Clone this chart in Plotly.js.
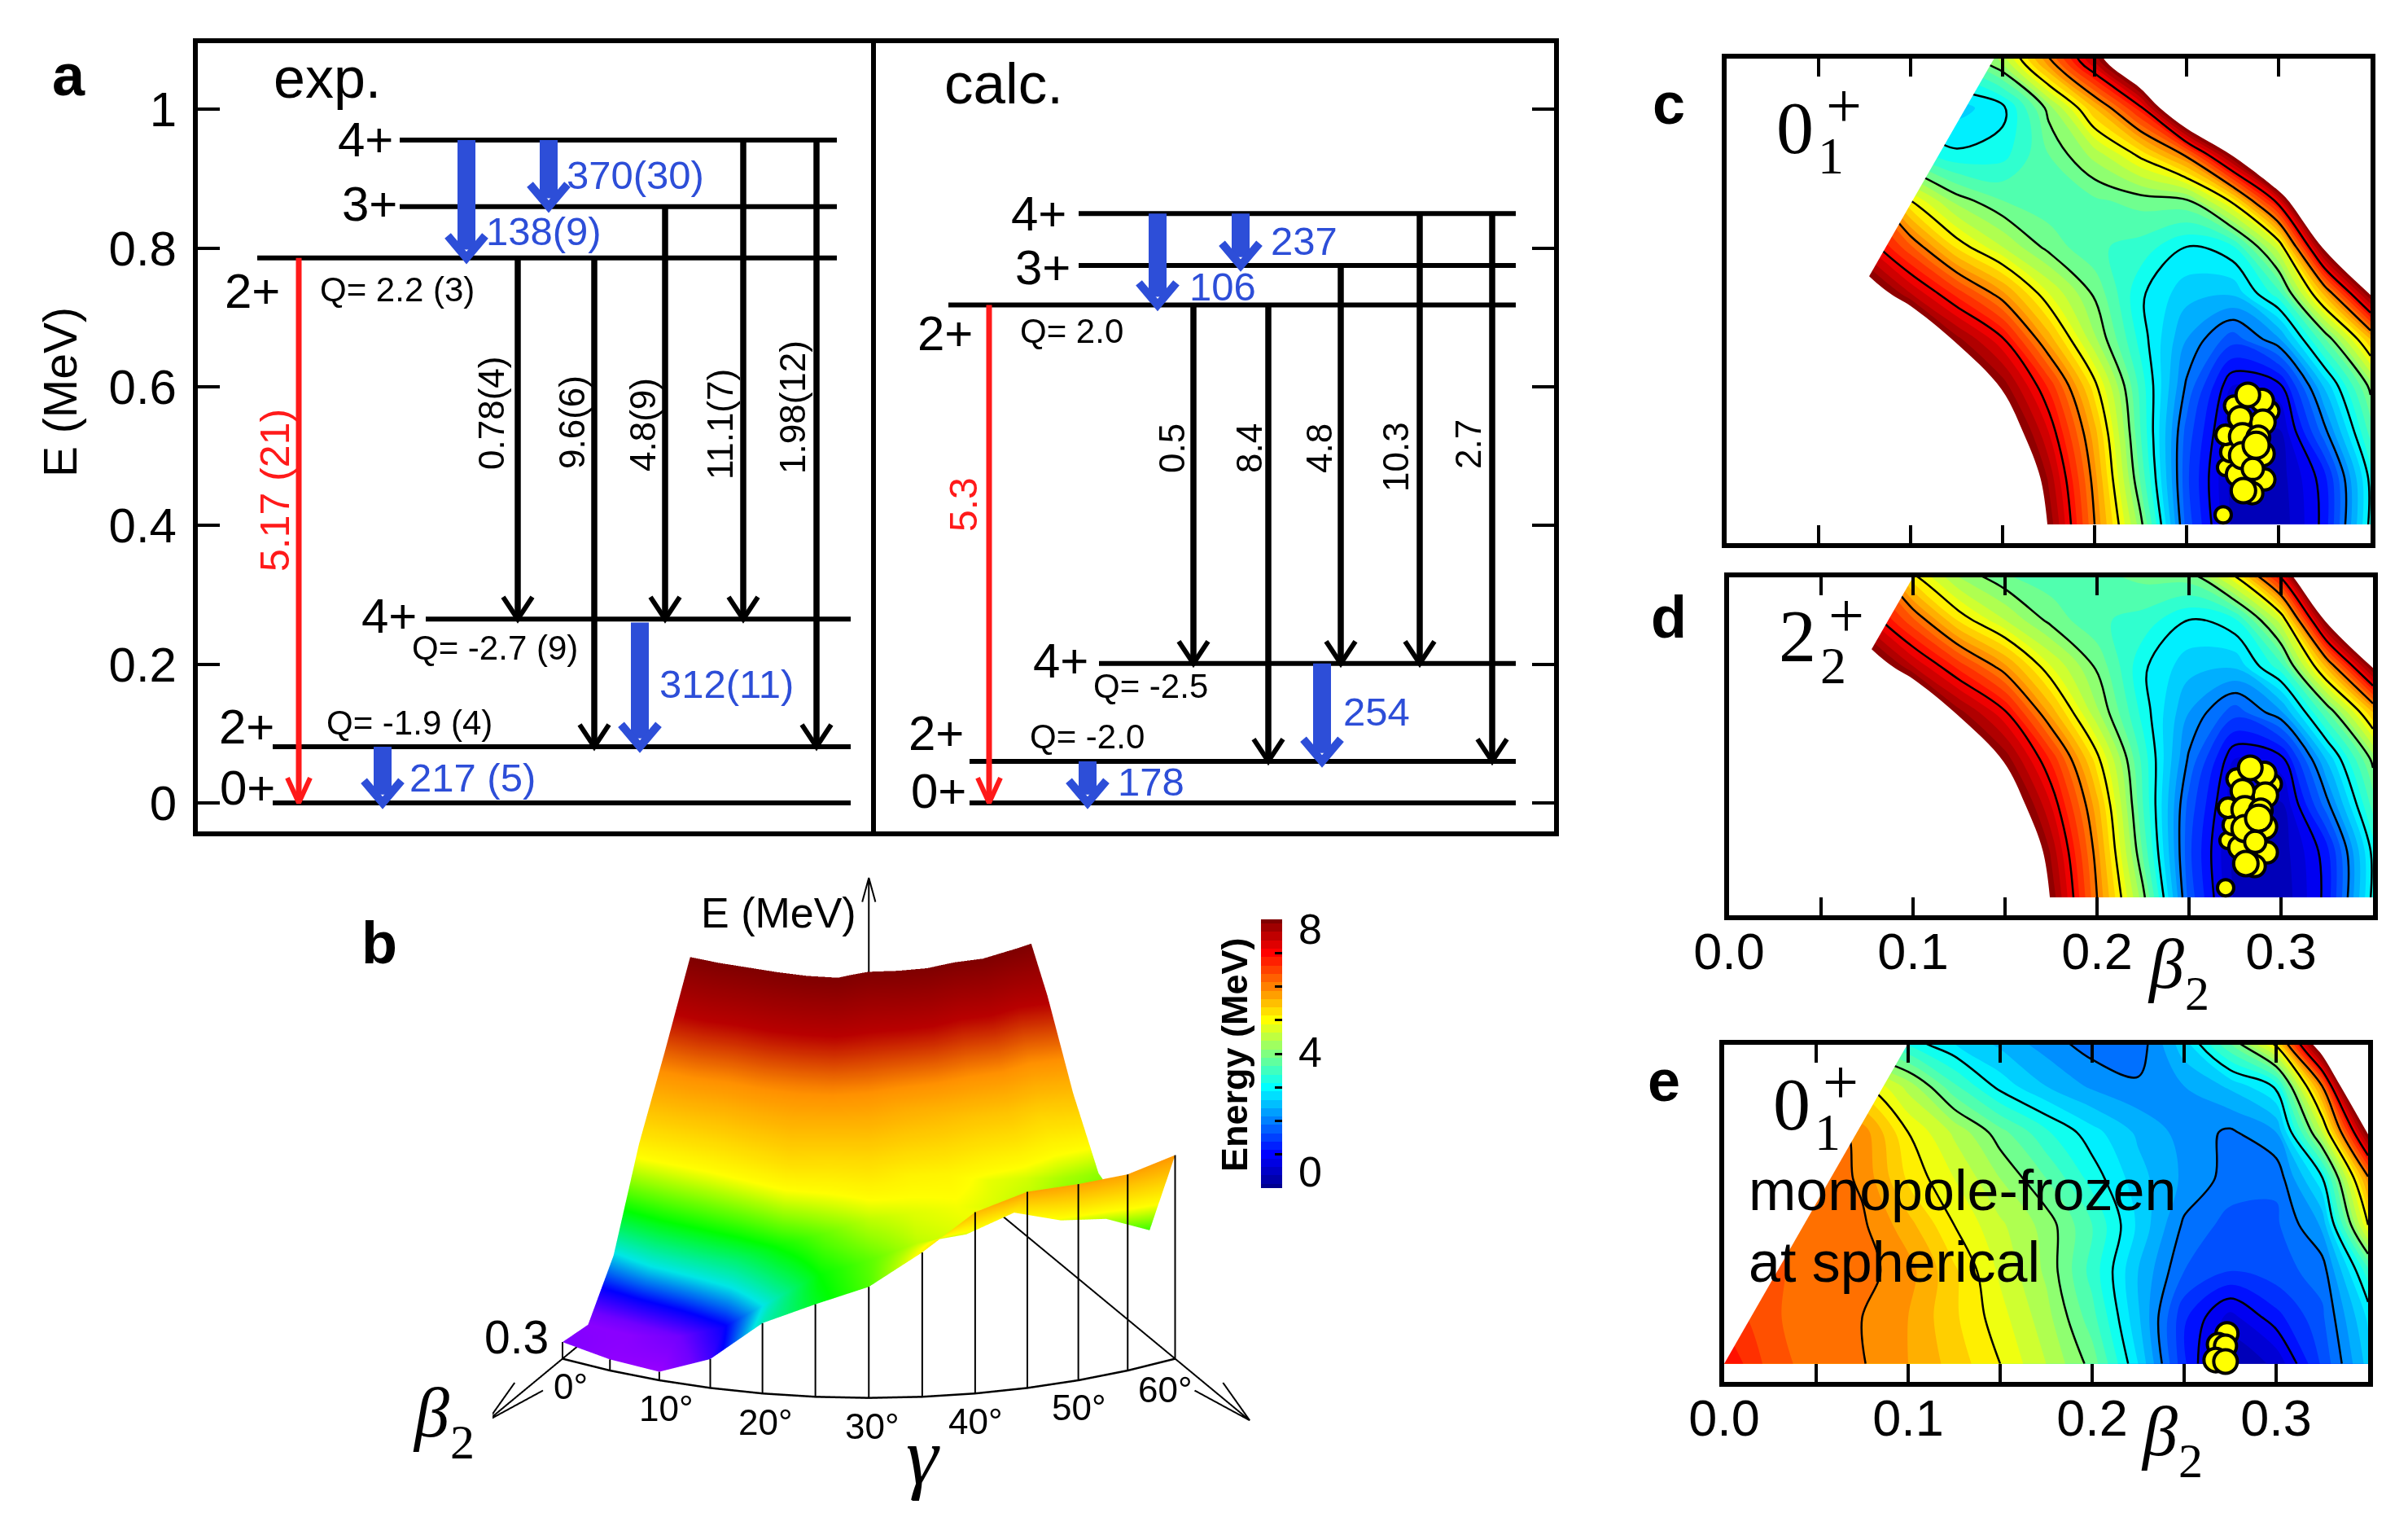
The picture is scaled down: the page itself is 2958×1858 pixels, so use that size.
<!DOCTYPE html>
<html><head><meta charset="utf-8">
<script src="https://cdn.plot.ly/plotly-3.0.1.min.js"></script>
<style>html,body{margin:0;padding:0;background:#fff}</style></head>
<body><div id="chart" style="width:2958px;height:1858px"></div>
<script>
// ---------- panel a data ----------
const E_TICKS=[0,0.2,0.4,0.6,0.8,1];
const expLevelE=[0,0.081,0.265,0.786,0.860,0.956];
const expLevelStart=[94,94,282,75,250,250];
const expLevelEnd=[804,804,804,787,787,787];
const calcLevelE=[0,0.060,0.201,0.718,0.775,0.850];
const calcLevelStart=[115,115,274,89,249,249];
const calcLevelEnd=[786,786,786,786,786,786];
// transitions: column, from energy, to energy
const expBlackCol=[395,489,576,672,762];
const expBlackFrom=[0.786,0.786,0.860,0.956,0.956];
const expBlackTo=[0.265,0.081,0.265,0.265,0.081];
const expBlackLabels=['0.78(4)','9.6(6)','4.8(9)','11.1(7)','1.98(12)'];
const expBlueCol=[332,433,545,229];
const expBlueFrom=[0.956,0.956,0.260,0.081];
const expBlueTo=[0.786,0.860,0.081,0];
const expBlueLabels=['138(9)','370(30)','312(11)','217 (5)'];
const expRedCol=[126],expRedFrom=[0.786],expRedTo=[0],expRedLabel='5.17 (21)';
const calcBlackCol=[390,482,571,668,757];
const calcBlackFrom=[0.718,0.718,0.775,0.850,0.850];
const calcBlackTo=[0.201,0.060,0.201,0.201,0.060];
const calcBlackLabels=['0.5','8.4','4.8','10.3','2.7'];
const calcBlueCol=[346,448,548,260];
const calcBlueFrom=[0.850,0.850,0.201,0.060];
const calcBlueTo=[0.718,0.775,0.060,0];
const calcBlueLabels=['106','237','254','178'];
const calcRedCol=[139],calcRedFrom=[0.718],calcRedTo=[0],calcRedLabel='5.3';

// ---------- panels c,d: energy on (x=beta cos gamma, y=beta sin gamma) ----------
const GRID_X=[0,0.025,0.05,0.075,0.1,0.125,0.15,0.175,0.2,0.225,0.25,0.275,0.3,0.325,0.35];
const GRID_Y_CD=[0,0.025,0.05,0.075,0.1,0.125,0.15,0.175,0.2,0.225,0.25,0.275];
const Z_CD=[
[16,16,16,16,14,11.8,9.9,7.95,6,4.1,1.65,0.45,0.3,1.1,3.1],
[16,16,16,16,13.5,11.5,9.4,7.7,5.85,3.7,1.56,0.4,0.35,1.15,3.1],
[16,16,16,15,13,10.5,8.6,7.25,5.6,3.5,1.65,0.55,0.45,1.9,3.6],
[16,16,16,14.5,12,9.7,7.9,6.7,5.1,3.4,1.95,0.75,0.9,2.55,4.1],
[16,16,15,12,9.3,7.85,7.05,5.65,4.3,3.15,2.25,1.6,2.2,3.7,5.5],
[16,15,12,8.6,7.5,6.65,5.8,4.75,3.95,3.05,2.6,2.55,3.4,5.6,8.1],
[14,12,9,7.3,6.3,5.2,4.5,3.9,3.55,3.4,3,3.2,4.65,8.2,13],
[10,8,7,6.4,5,4.15,3.75,3.6,3.7,3.85,3.95,5.1,7.2,11,15],
[6,5,4,3.5,3.4,3.05,3.15,3.75,4.35,5.1,6.1,8.1,11,14,16],
[5,4,3.5,3,2.8,2.65,2.9,4.1,5.5,6.9,9.5,12,14,16,16],
[4,3.5,3,2.8,3,3.5,4.3,5.9,7.5,9.5,12,14,16,16,16],
[3.5,3,2.8,2.8,3,4,5.2,6.7,8.5,11,13,15,16,16,16]];
const GRID_Y_E=[0,0.025,0.05,0.075,0.1,0.125,0.15,0.175,0.2];
const Z_E=[
[7,6.4,6.1,6.02,5.75,5.4,5,4.5,3.9,2.75,1.3,0.3,0.55,1.55,2.6],
[6.7,6.3,6.1,6,5.75,5.3,4.85,4.35,3.6,2.55,1.3,0.65,1.15,1.7,2.8],
[6.4,6.3,6.15,6.1,5.85,5.3,4.7,4.2,3.4,2.5,1.75,1.5,1.65,1.85,3.4],
[6.4,6.3,6.15,6.05,5.6,5,4.55,4.15,3.5,2.7,1.95,1.65,1.7,2.3,5],
[6.3,6.3,6.2,5.95,5.2,4.75,4.25,3.75,3.15,2.6,2.2,1.9,1.8,2.95,5.9],
[6.3,6.3,6.2,5.9,5,4.45,3.85,3.3,2.85,2.45,2.15,1.95,2.25,4.5,8.1],
[6,6,5.5,5.1,4.4,3.55,2.9,2.5,2.2,2.05,2.25,2.55,3.05,6,11],
[4,4,4,3.5,3.1,2.7,2.4,2.1,1.85,1.8,2.7,3.85,5.3,9,14],
[3.5,3.5,3.5,3,2.8,2.4,2.1,1.8,1.6,1.6,3.2,4.8,6.5,11,14]];
const ptsX=[0.2699,0.2712,0.2738,0.2712,0.2759,0.2778,0.2949,0.2923,0.2910,0.2915,0.2857,0.2791,0.2804,0.2809,0.2804,0.2910,0.2833,0.2890,0.2860,0.2878];
const ptsY=[0.0052,0.0308,0.0391,0.0484,0.0641,0.0270,0.0613,0.0243,0.0669,0.0552,0.0169,0.0576,0.0474,0.0183,0.0372,0.0382,0.0700,0.0470,0.0300,0.0428];
const ptsSize=[20,20,24,24,24,28,24,26,28,30,26,28,32,30,32,30,29,28,26,32];
const ptsEX=[0.2733,0.2686,0.2725,0.2672,0.2725];
const ptsEY=[0.0163,0.0104,0.0096,0.0020,0.0012];
const WEDGE_X=[0,0.2,-0.01,-0.01],WEDGE_Y=[0,0.3464,0.3464,0];
const BETA_TICKS=[0,0.05,0.1,0.15,0.2,0.25,0.3];
const BETA_TEXT=['0.0','','0.1','','0.2','','0.3'];

// ---------- panel b: surface in (beta,gamma) ----------
const SURF_BETA=[0.3,0.275,0.25,0.225,0.2,0.175,0.15,0.125];
const SURF_GAMMA=[0,5,10,15,20,25,30,35,40,45,50,55,60];
const SURF_E=[
[0.45,0.3,0.23,0.78,1.9,2.5,3,3.9,4.9,5.3,5.3,5.3,5.5],
[0.35,0.35,0.55,1,1.85,2.65,3.05,3.5,3.65,4.1,3.7,3.5,2.9],
[1.65,1.9,2,2.2,2.7,3.1,3.5,3.65,3.75,3.6,3.4,3.1,2.9],
[4.1,3.9,3.9,4.15,4.5,4.3,4.35,4,3.95,3.7,3.6,3.4,3.3],
[6,5.9,5.7,5.8,5.8,5.8,5.6,5.2,5,4.8,4.8,4.5,4.9],
[8,7.9,7.8,7.85,7.9,7.9,7.35,7.3,7.2,6.8,6.9,6.65,6.95],
[10,10,10,9.7,9.6,9.5,9.3,9.3,9.3,9.2,9.2,9,8.6],
[12,12,12,12,12,12,12,12,12,12,12,12,12]];
const GAMMA_LABELS=['0°','10°','20°','30°','40°','50°','60°'];
const BAR_LEVELS=[0,0.25,0.5,0.75,1,1.25,1.5,1.75,2,2.25,2.5,2.75,3,3.25,3.5,3.75,4,4.25,4.5,4.75,5,5.25,5.5,5.75,6,6.25,6.5,6.75,7,7.25,7.5,7.75,8];

// ---------- styles ----------
const W=2958,H=1858,SANS='Liberation Sans',SERIF='Liberation Serif';
const BLUE='#2d4ed8',RED='#ff1a1a';
const fx=p=>p/W, fy=p=>1-p/H;
const dx=(a,b)=>[fx(a),fx(b)], dy=(top,bot)=>[fy(bot),fy(top)];
const JET=[[0,'#00008f'],[0.0625,'#0000ff'],[0.1875,'#00ffff'],[0.3125,'#ffff00'],[0.4375,'#ff0000'],[0.5,'#800000'],[0.5,'#ffffff'],[1,'#ffffff']];
const JET8=[[0,'#00008f'],[0.125,'#0000ff'],[0.375,'#00ffff'],[0.625,'#ffff00'],[0.875,'#ff0000'],[1,'#800000']];
const SURF_CS=[[0,'#b000ff'],[0.07,'#7000ff'],[0.13,'#0000ff'],[0.21,'#00e6e6'],[0.33,'#00ff00'],[0.475,'#ffff00'],[0.70,'#ff9000'],[0.85,'#b80000'],[1,'#800000']];

const traces=[];
function lv(xa,ya,x0s,x1s,es){es.forEach((e,i)=>traces.push({type:'scatter',mode:'lines',xaxis:xa,yaxis:ya,x:[x0s[i],x1s[i]],y:[e,e],line:{color:'#000',width:6},hoverinfo:'skip'}));}
function arrow(xa,ya,x,y0,y1,color,w,hw,hh,hwW,gap){
 traces.push({type:'scatter',mode:'lines',xaxis:xa,yaxis:ya,x:[x,x],y:[y0,y1+gap],line:{color,width:w},hoverinfo:'skip'});
 traces.push({type:'scatter',mode:'lines',xaxis:xa,yaxis:ya,x:[x-hw,x,x+hw],y:[y1+hh,y1,y1+hh],line:{color,width:hwW},hoverinfo:'skip'});
}
lv('x','y',expLevelStart,expLevelEnd,expLevelE);
lv('x2','y2',calcLevelStart,calcLevelEnd,calcLevelE);
function arrows(xa,ya,cols,from,to,kind){cols.forEach((c,i)=>{
 if(kind==='black')arrow(xa,ya,c,from[i],to[i],'#000',7.5,18,0.032,6,0.002);
 if(kind==='red')arrow(xa,ya,c,from[i],to[i],RED,7,14,0.036,6,0.003);
 if(kind==='blue')arrow(xa,ya,c,from[i],to[i],BLUE,22,23,0.032,10,0.012);
});}
arrows('x','y',expBlackCol,expBlackFrom,expBlackTo,'black');
arrows('x','y',expBlueCol,expBlueFrom,expBlueTo,'blue');
arrows('x','y',expRedCol,expRedFrom,expRedTo,'red');
arrows('x2','y2',calcBlackCol,calcBlackFrom,calcBlackTo,'black');
arrows('x2','y2',calcBlueCol,calcBlueFrom,calcBlueTo,'blue');
arrows('x2','y2',calcRedCol,calcRedFrom,calcRedTo,'red');

function mapPanel(xa,ya,z,gy,px,py,ps){
 traces.push({type:'contour',xaxis:xa,yaxis:ya,x:GRID_X,y:gy,z,colorscale:JET,zmin:0,zmax:16,autocontour:false,autocolorscale:false,
  contours:{start:0,end:16,size:0.25,coloring:'fill',showlines:false},line:{width:0,smoothing:1},showscale:false,hoverinfo:'skip'});
 traces.push({type:'contour',xaxis:xa,yaxis:ya,x:GRID_X,y:gy,z,autocontour:false,
  contours:{start:1,end:7,size:1,coloring:'none'},line:{color:'#000',width:2.5,smoothing:1},showscale:false,hoverinfo:'skip'});
 traces.push({type:'scatter',mode:'none',xaxis:xa,yaxis:ya,x:WEDGE_X,y:WEDGE_Y,fill:'toself',fillcolor:'#fff',hoverinfo:'skip'});
 traces.push({type:'scatter',mode:'markers',xaxis:xa,yaxis:ya,x:px,y:py,marker:{color:'#ffff00',opacity:1,size:ps,line:{color:'#000',width:4}},hoverinfo:'skip'});
}
mapPanel('x3','y3',Z_CD,GRID_Y_CD,ptsX,ptsY,ptsSize);
mapPanel('x4','y4',Z_CD,GRID_Y_CD,ptsX,ptsY,ptsSize);
mapPanel('x5','y5',Z_E,GRID_Y_E,ptsEX,ptsEY,[27,27,27,29,29]);

// colour bar as an axis-scaled heatmap
traces.push({type:'heatmap',xaxis:'x6',yaxis:'y6',x:[0,1],y:BAR_LEVELS,z:BAR_LEVELS.map(v=>[v,v]),colorscale:JET8,zmin:0,zmax:8,showscale:false,hoverinfo:'skip'});

// surface
const rad=d=>d*Math.PI/180;
const sx=SURF_BETA.map(b=>SURF_GAMMA.map(g=>b*Math.cos(rad(g))));
const sy=SURF_BETA.map(b=>SURF_GAMMA.map(g=>b*Math.sin(rad(g))));
traces.push({type:'surface',scene:'scene',x:sx,y:sy,z:SURF_E,colorscale:SURF_CS,cmin:0,cmax:8,showscale:false,hoverinfo:'skip',
 lighting:{ambient:1,diffuse:0,specular:0,roughness:1,fresnel:0}});
// floor arc, droplines, axes
const line3=(x,y,z,w,c)=>traces.push({type:'scatter3d',mode:'lines',scene:'scene',x,y,z,line:{color:c||'#000',width:w},hoverinfo:'skip'});
line3(SURF_GAMMA.map(g=>0.3*Math.cos(rad(g))),SURF_GAMMA.map(g=>0.3*Math.sin(rad(g))),SURF_GAMMA.map(()=>0),5);
SURF_GAMMA.forEach((g,i)=>line3([0.3*Math.cos(rad(g)),0.3*Math.cos(rad(g))],[0.3*Math.sin(rad(g)),0.3*Math.sin(rad(g))],[0,SURF_E[0][i]],4));
const AX=0.373;
[0,60].forEach(g=>{
 const c=Math.cos(rad(g)),s=Math.sin(rad(g));
 line3([0,AX*c],[0,AX*s],[0,0],4);
 const bx=(AX-0.04)*c,by=(AX-0.04)*s,nx=-s*0.008,ny=c*0.008;
 line3([bx+nx,AX*c,bx-nx],[by+ny,AX*s,by-ny],[0,0,0],4);
});
line3([0,0],[0,0],[0,6.15],4);
line3([-0.0016,0,0.0016],[0.0028,0,-0.0028],[5.5,6.15,5.5],4);

// ---------- annotations ----------
const A=[];
function T(text,x,y,size,o){o=o||{};const a={text,x:fx(x),y:fy(y),xref:'paper',yref:'paper',showarrow:false,xanchor:o.xanchor||'center',yanchor:'middle',
 font:{family:o.family||SANS,size,color:o.color||'#000'},textangle:o.angle||0};if(o.align)a.align=o.align;A.push(a);}
T('<b>a</b>',84,92,72);T('<b>b</b>',466,1158,72);T('<b>c</b>',2050,127,72);T('<b>d</b>',2050,758,72);T('<b>e</b>',2044,1327,72);
T('exp.',402,96,70);T('calc.',1233,103,71);
T('E (MeV)',74,482,57,{angle:-90});
[['4+',449,172],['3+',454,251],['2+',310,358],['4+',478,756],['2+',303,892],['0+',304,967],
 ['4+',1276,262],['3+',1281,329],['2+',1161,409],['4+',1303,811],['2+',1150,900],['0+',1153,971]].forEach(a=>T(a[0],a[1],a[2],60));
[['Q= 2.2 (3)',488,355],['Q= -2.7 (9)',608,796],['Q= -1.9 (4)',503,887],['Q= 2.0',1316,406],['Q= -2.5',1413,842],['Q= -2.0',1335,904]].forEach(a=>T(a[0],a[1],a[2],42));
[[expBlueLabels[0],668,284],[expBlueLabels[1],780,215],[expBlueLabels[2],892,840],[expBlueLabels[3],580,955],
 [calcBlueLabels[0],1502,352],[calcBlueLabels[1],1602,296],[calcBlueLabels[2],1691,874],[calcBlueLabels[3],1414,960]].forEach(a=>T(a[0],a[1],a[2],49,{color:BLUE}));
const expRotX=[604,702,789,884,974],expRotY=[508,519,522,521,500];
expBlackLabels.forEach((t,i)=>T(t,expRotX[i],expRotY[i],44,{angle:-90}));
const calcRotX=[1439,1534,1620,1714,1803],calcRotY=[551,551,551,561,546];
calcBlackLabels.forEach((t,i)=>T(t,calcRotX[i],calcRotY[i],44,{angle:-90}));
T(expRedLabel,338,602,50,{angle:-90,color:RED});
T(calcRedLabel,1183,620,48,{angle:-90,color:RED});
// state labels: main symbol, then superscript and subscript stacked in one text
function state(main,sub,x,y,xs,yc){T(main,x,y,92,{family:SERIF});
 T('<span style="font-size:40px">\u00a0</span><span style="font-size:78px">+</span><br><span style="font-size:64px">'+sub+'</span>',xs,yc,44,{family:SERIF,xanchor:'left',align:'left'});}
state('0','1',2205,157,2231,156);
state('2','2',2208,781,2234,782);
state('0','1',2201,1356,2227,1355);
T('monopole-frozen',2146,1462,70,{xanchor:'left'});T('at spherical',2146,1550,70,{xanchor:'left'});
function beta(x,y){T('<i>β</i>',x,y,86,{family:SERIF});T('2',x+39,y+36,60,{family:SERIF});}
beta(2660,1184);beta(2652,1758);beta(529,1735);
T('<i>γ</i>',1134,1788,100,{family:SERIF});
T('E (MeV)',956,1121,52);T('0.3',634,1642,57);
const gLabX=[701,818,940,1071,1198,1325,1431],gLabY=[1702,1729,1746,1751,1745,1728,1706];
GAMMA_LABELS.forEach((t,i)=>T(t,gLabX[i],gLabY[i],44));
T('<b>Energy (MeV)</b>',1516,1295,45,{angle:-90});
T('8',1609,1141,52);T('4',1609,1292,52);T('0',1609,1439,52);

function frame(dom,tickv,text,labels,len){return {domain:dom,showgrid:false,zeroline:false,showline:true,linewidth:6,linecolor:'#000',mirror:'ticks',ticks:'inside',ticklen:len,tickwidth:4,tickcolor:'#000',tickmode:'array',tickvals:tickv,ticktext:text,showticklabels:labels,tickfont:{family:SANS,size:63,color:'#000'},ticklabelstandoff:-16};}
const yFrame=(dom,r,a)=>({domain:dom,range:r,showgrid:false,zeroline:false,showline:true,linewidth:6,linecolor:'#000',mirror:true,ticks:'',showticklabels:false,anchor:a});
const RY_A=[-0.0411,1.0957];
const RX_MAP=[0,0.35];
const layout={width:W,height:H,margin:{l:0,r:0,t:0,b:0,pad:0},autosize:false,paper_bgcolor:'#fff',plot_bgcolor:'rgba(0,0,0,0)',showlegend:false,hovermode:false,font:{family:SANS},
 annotations:A,
 xaxis:{domain:dx(243,1076),range:[2,835],showgrid:false,zeroline:false,showline:true,linewidth:6,linecolor:'#000',mirror:true,ticks:'',showticklabels:false,anchor:'y'},
 yaxis:{domain:dy(53,1021),range:RY_A,showgrid:false,zeroline:false,showline:true,linewidth:6,linecolor:'#000',mirror:false,ticks:'inside',ticklen:27,tickwidth:4,tickcolor:'#000',tickmode:'array',tickvals:E_TICKS,ticktext:['0','0.2','0.4','0.6','0.8','1'],tickfont:{family:SANS,size:60,color:'#000'},anchor:'x',ticklabelstandoff:8},
 xaxis2:{domain:dx(1076,1909),range:[0,833],showgrid:false,zeroline:false,showline:true,linewidth:6,linecolor:'#000',mirror:true,ticks:'',showticklabels:false,anchor:'y2'},
 yaxis2:{domain:dy(53,1021),range:RY_A,side:'right',showgrid:false,zeroline:false,showline:true,linewidth:6,linecolor:'#000',mirror:true,ticks:'inside',ticklen:27,tickwidth:4,tickcolor:'#000',tickmode:'array',tickvals:E_TICKS,showticklabels:false,anchor:'x2'},
 xaxis3:Object.assign(frame(dx(2121,2912),BETA_TICKS,BETA_TEXT,false,22),{range:RX_MAP,anchor:'y3'}),
 yaxis3:yFrame(dy(72,667),[-0.0101,0.2517],'x3'),
 xaxis4:Object.assign(frame(dx(2124,2915),BETA_TICKS,BETA_TEXT,true,22),{range:RX_MAP,anchor:'y4'}),
 yaxis4:yFrame(dy(709,1124),[-0.0097,0.1730],'x4'),
 xaxis5:Object.assign(frame(dx(2118,2909),BETA_TICKS,BETA_TEXT,true,22),{range:RX_MAP,anchor:'y5'}),
 yaxis5:yFrame(dy(1283,1697),[-0.0098,0.1723],'x5'),
 xaxis6:{domain:dx(1549,1575),range:[0,1],visible:false,anchor:'y6',fixedrange:true},
 yaxis6:{domain:dy(1129,1459),range:[0,8],side:'right',anchor:'x6',showgrid:false,zeroline:false,showline:false,ticks:'inside',ticklen:9,tickwidth:3,tickcolor:'#000',tickmode:'array',tickvals:[0,1,2,3,4,5,6,7,8],showticklabels:false},
 scene:{domain:{x:dx(605,1805),y:dy(984,1858)},bgcolor:'rgba(0,0,0,0)',aspectmode:'manual',aspectratio:{x:2.87,y:2.87,z:0.947},
  xaxis:{visible:false,range:[-0.1,0.4]},yaxis:{visible:false,range:[-0.1,0.4]},zaxis:{visible:false,range:[0,8]},
  camera:{projection:{type:'orthographic'},center:{x:0,y:0,z:0},up:{x:0,y:0,z:1},
   eye:(function(){const r=2,el=rad(28.5),az=rad(30);return {x:r*Math.cos(el)*Math.cos(az),y:r*Math.cos(el)*Math.sin(az),z:r*Math.sin(el)};})()}}
};
Plotly.newPlot('chart',traces,layout,{displayModeBar:false});
</script></body></html>
